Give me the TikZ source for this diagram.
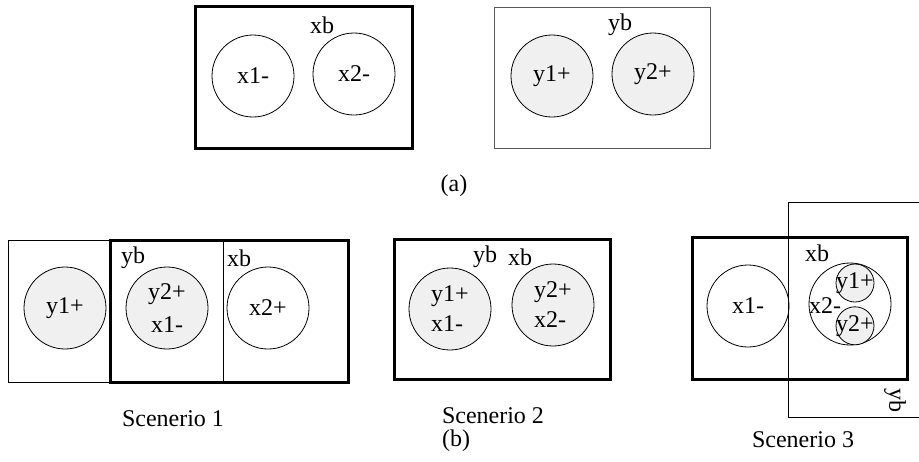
\documentclass[tikz,border=0pt]{standalone}
\usepackage{fontspec}
\setmainfont{Liberation Serif}
\usetikzlibrary{positioning}

\begin{document}
\begin{tikzpicture}[
  x=1pt, y=-1pt,
  font=\fontsize{24}{28}\selectfont,
  setw/.style={draw, circle, line width=0.8pt, minimum size=82pt,
    inner sep=0pt, fill=white},
  setg/.style={setw, fill=black!6},
  smallset/.style={setg, minimum size=38pt},
  thickbox/.style={line width=3pt},
  thinbox/.style={line width=1pt, draw=black!65},
  twoline/.style={align=center, font=\fontsize{24}{33}\selectfont},
  leftline/.style={align=left, font=\fontsize{24}{30}\selectfont}
]
\useasboundingbox (0,0) rectangle (919,461);

% (a) the two boxes apart
\draw[thickbox] (195,6) rectangle (412,148);
\node (xba) at (322,25) {xb};
\node[setw] (x1a) at (253,76) {x1-};
\node[setw] (x2a) at (354,74) {x2-};

\draw[thinbox] (494,7) rectangle (710,148);
\node (yba) at (620,25) {yb};
\node[setg] (y1a) at (552,76) {y1+};
\node[setg] (y2a) at (653,74) {y2+};

\node (capa) at (454,186) {(a)};

% Scenerio 1
\draw[thinbox, draw=black] (8,240) rectangle (223,382);
\draw[thickbox] (110,240) rectangle (348,382);
\node (yb1) at (133,258) {yb};
\node (xb1) at (239,258) {xb};
\node[setg] (y1s1) at (65,308) {y1+};
\node[setg, twoline] (y2s1) at (167,308) {y2+\\x1-};
\node[setw] (x2s1) at (268,308) {x2+};
\node (cap1) at (173,419) {Scenerio 1};

% Scenerio 2
\draw[thickbox] (394,239) rectangle (610,379);
\node (yb2) at (485,257) {yb};
\node (xb2) at (520,257) {xb};
\node[setg, leftline] (c1s2) at (450,309) {y1+\\x1-};
\node[setg, leftline] (c2s2) at (553,305) {y2+\\x2-};
\node (cap2) at (493,416) {Scenerio 2};
\node (capb) at (456,441) {(b)};

% Scenerio 3
\draw[thickbox] (692,237) rectangle (907,379);
\node (xb3) at (817,253) {xb};
\node[setw, fill=none] (x1s3) at (748,306) {x1-};
\node[setw] (x2s3) at (850,304) {};
\node[smallset] (y1s3) at (855,283) {};
\node[smallset, below=4pt of y1s3] (y2s3) {};
\node (y1l) at (y1s3) {y1+};
\node (y2l) at (y2s3) {y2+};
\node (x2l) at (825,306) {x2-};
\draw[line width=1pt] (919,202) -- (788,202) -- (788,417) -- (919,417);
\node[rotate=-90] (yb3) at (895,400) {yb};
\node (cap3) at (803,440) {Scenerio 3};

\end{tikzpicture}
\end{document}
